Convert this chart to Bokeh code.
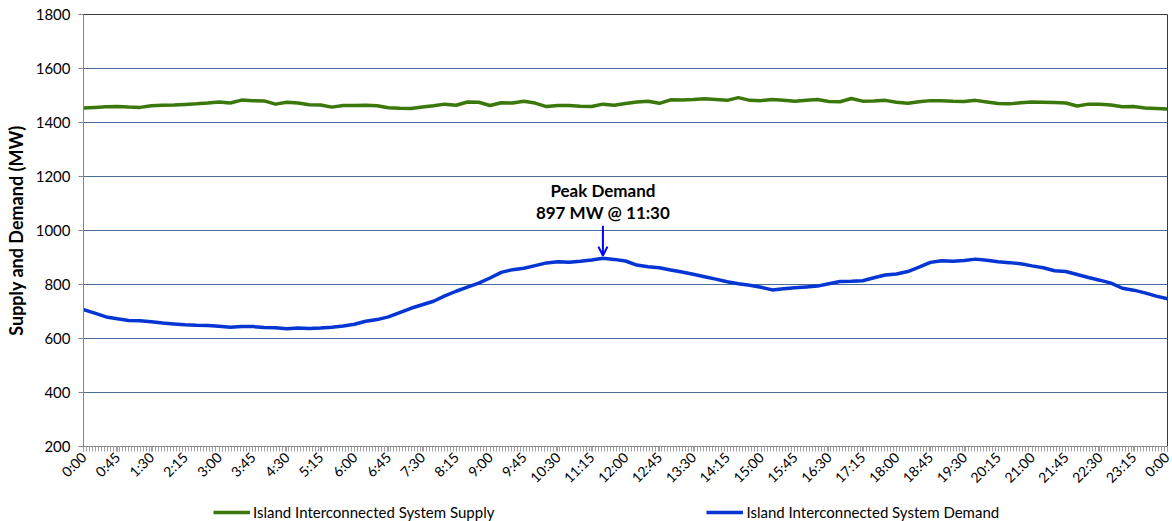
import numpy as np
from bokeh.plotting import figure
from bokeh.layouts import column
from bokeh.models import (FixedTicker, Legend, LegendItem, Label, Arrow, OpenHead,
                          Range1d, ColumnDataSource)
from bokeh.embed import file_html
from bokeh.resources import INLINE

# ---- data (15-minute readings, 0:00 to 24:00) ----
supply = [1454, 1456, 1458, 1459, 1457, 1456, 1462, 1464, 1465, 1467, 1469, 1472,
          1476, 1472, 1483, 1481, 1480, 1468, 1475, 1472, 1466, 1465, 1457, 1463,
          1463, 1464, 1462, 1455, 1453, 1452, 1457, 1462, 1468, 1464, 1476, 1475,
          1463, 1473, 1472, 1479, 1472, 1459, 1463, 1463, 1460, 1459, 1468, 1464,
          1470, 1476, 1479, 1471, 1484, 1483, 1485, 1488, 1485, 1482, 1492, 1482,
          1481, 1485, 1482, 1479, 1482, 1485, 1478, 1477, 1489, 1479, 1480, 1482,
          1475, 1471, 1477, 1481, 1481, 1479, 1478, 1482, 1476, 1470, 1469, 1473,
          1476, 1475, 1474, 1472, 1461, 1468, 1468, 1465, 1458, 1459, 1454, 1452,
          1450]
demand = [707, 694, 680, 673, 667, 666, 662, 657, 654, 651, 649, 648,
          645, 642, 644, 644, 641, 640, 636, 639, 637, 639, 642, 646,
          653, 664, 670, 680, 696, 712, 725, 738, 758, 775, 790, 805,
          824, 845, 855, 860, 870, 880, 884, 882, 886, 891, 897, 893,
          887, 872, 866, 862, 854, 846, 838, 829, 820, 810, 803, 797,
          790, 780, 784, 788, 791, 794, 803, 811, 812, 814, 825, 835,
          839, 848, 864, 882, 888, 886, 889, 894, 890, 884, 881, 877,
          869, 862, 851, 848, 837, 826, 816, 805, 786, 779, 769, 757,
          747]
tick_labels = ["0:00", "0:45", "1:30", "2:15", "3:00", "3:45", "4:30", "5:15",
               "6:00", "6:45", "7:30", "8:15", "9:00", "9:45", "10:30", "11:15",
               "12:00", "12:45", "13:30", "14:15", "15:00", "15:45", "16:30",
               "17:15", "18:00", "18:45", "19:30", "20:15", "21:00", "21:45",
               "22:30", "23:15", "0:00"]
series_names = ["Island Interconnected System Supply",
                "Island Interconnected System Demand"]

step_min = 15
label_step_min = 45
minutes = [i * step_min for i in range(len(demand))]
tick_pos = [i * label_step_min for i in range(len(tick_labels))]

FONT = "Lato"
GREEN = "#3b780c"
BLUE = "#0535d2"

src = ColumnDataSource(dict(t=minutes, supply=supply, demand=demand))

p = figure(width=1172, height=494, output_backend="svg", toolbar_location=None,
           x_range=Range1d(0, minutes[-1]), y_range=Range1d(200, 1800),
           min_border_left=83, min_border_right=5, min_border_top=14,
           min_border_bottom=45)
p.background_fill_color = "white"
p.border_fill_color = "white"
p.outline_line_color = "#3a3a3a"
p.outline_line_width = 1

# grid
p.xgrid.grid_line_color = None
p.ygrid.grid_line_color = "#4a6a98"
p.ygrid.grid_line_width = 1
p.ygrid.ticker = FixedTicker(ticks=list(range(200, 1801, 200)))

# y axis
p.yaxis.ticker = FixedTicker(ticks=list(range(200, 1801, 200)))
p.yaxis.axis_label = "Supply and Demand (MW)"
p.yaxis.axis_label_text_font = FONT
p.yaxis.axis_label_text_font_style = "bold"
p.yaxis.axis_label_text_font_size = "18px"
p.yaxis.axis_label_text_color = "#000000"
p.yaxis.axis_label_standoff = 6
p.yaxis.major_label_text_font = FONT
p.yaxis.major_label_text_font_size = "15px"
p.yaxis.major_label_text_color = "#000000"
p.yaxis.major_label_standoff = 8
p.yaxis.axis_line_color = "#868686"
p.yaxis.major_tick_line_color = "#868686"
p.yaxis.major_tick_in = 0
p.yaxis.major_tick_out = 5
p.yaxis.minor_tick_line_color = None

# x axis
p.xaxis.ticker = FixedTicker(ticks=tick_pos, minor_ticks=list(range(0, minutes[-1] + 1, 4)))
p.xaxis.major_label_overrides = {pos: lab for pos, lab in zip(tick_pos, tick_labels)}
p.xaxis.major_label_orientation = np.pi / 4
p.xaxis.major_label_text_font = FONT
p.xaxis.major_label_text_font_size = "14px"
p.xaxis.major_label_text_color = "#000000"
p.xaxis.major_label_standoff = 3
p.xaxis.axis_line_color = "#868686"
p.xaxis.major_tick_line_color = "#a0a0a0"
p.xaxis.minor_tick_line_color = "#a0a0a0"
p.xaxis.major_tick_in = 0
p.xaxis.major_tick_out = 5
p.xaxis.minor_tick_in = 0
p.xaxis.minor_tick_out = 5

# lines
r_sup = p.line("t", "supply", source=src, line_color=GREEN, line_width=3.5, line_join="round")
r_dem = p.line("t", "demand", source=src, line_color=BLUE, line_width=3.5, line_join="round")

# peak annotation
peak_idx = int(np.argmax(demand))
peak_val = demand[peak_idx]
peak_t = minutes[peak_idx]
peak_lab = f"{peak_t // 60}:{peak_t % 60:02d}"
p.add_layout(Label(x=peak_t, y=1150, text="Peak Demand", text_align="center",
                   text_baseline="middle", text_font=FONT, text_font_style="bold",
                   text_font_size="17px", text_color="#000000"))
p.add_layout(Label(x=peak_t, y=1065, text=f"{peak_val} MW @ {peak_lab}", text_align="center",
                   text_baseline="middle", text_font=FONT, text_font_style="bold",
                   text_font_size="17px", text_color="#000000"))
p.add_layout(Arrow(end=OpenHead(size=9, line_color="#0000ff", line_width=2),
                   x_start=peak_t, y_start=1018, x_end=peak_t, y_end=peak_val + 10,
                   line_color="#0000ff", line_width=2))

# legend strip below the chart (series drawn out of its visible range, legend only)
lf = figure(width=1172, height=27, output_backend="svg", toolbar_location=None,
            x_range=Range1d(0, minutes[-1]), y_range=Range1d(0, 1), x_axis_type=None,
            y_axis_type=None, min_border=0, min_border_left=0, min_border_right=0,
            min_border_top=0, min_border_bottom=0)
lf.outline_line_color = None
lf.grid.visible = False
lsrc = ColumnDataSource(dict(t=minutes, supply=supply, demand=demand))
l_sup = lf.line("t", "supply", source=lsrc, line_color=GREEN, line_width=3.5)
l_dem = lf.line("t", "demand", source=lsrc, line_color=BLUE, line_width=3.5)
legend = Legend(items=[LegendItem(label=series_names[0], renderers=[l_sup]),
                       LegendItem(label=series_names[1], renderers=[l_dem])],
                orientation="horizontal", location=(130, 0), spacing=212,
                glyph_width=37, glyph_height=16, label_standoff=3, padding=2, margin=0,
                border_line_color=None, background_fill_alpha=0,
                label_text_font=FONT, label_text_font_size="15px",
                label_text_color="#000000")
lf.add_layout(legend, "center")

open("out.html", "w").write(file_html(column(p, lf), INLINE))
